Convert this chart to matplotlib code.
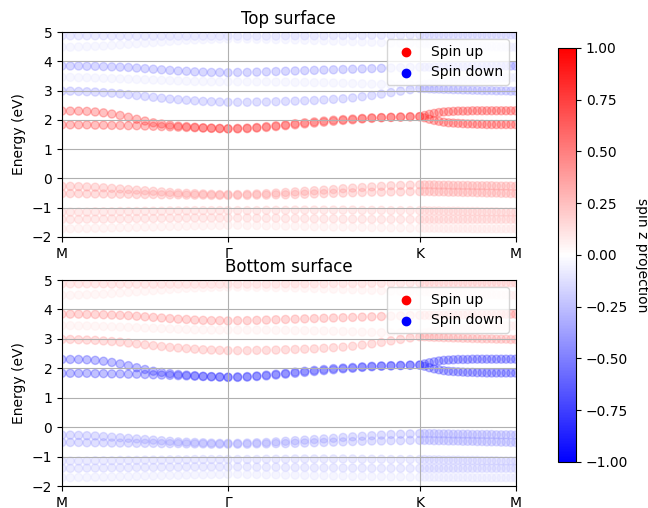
import numpy as np
import matplotlib.pyplot as plt
from matplotlib.colors import Normalize
from matplotlib.cm import ScalarMappable

# k-path M - Gamma - K - M (hexagonal BZ), 20 steps per segment
seg_len = [0.866, 1.0, 0.5]
n_step = 20
k_labels = ['M', 'Γ', 'K', 'M']

# band energies (eV), 61 k-points each
e_r1 = [2.30, 2.30, 2.30, 2.29, 2.27, 2.24, 2.20, 2.15, 2.09, 2.02, 1.96, 1.90, 1.86, 1.82, 1.79, 1.77, 1.75, 1.73, 1.72, 1.71, 1.70,
        1.71, 1.72, 1.74, 1.77, 1.80, 1.83, 1.87, 1.90, 1.93, 1.96, 1.99, 2.01, 2.03, 2.05, 2.07, 2.08, 2.09, 2.10, 2.11, 2.11,
        2.15, 2.19, 2.22, 2.25, 2.27, 2.28, 2.29, 2.30, 2.30, 2.30, 2.31, 2.31, 2.31, 2.31, 2.31, 2.31, 2.31, 2.31, 2.31, 2.31]
e_r2 = [1.83, 1.83, 1.83, 1.83, 1.82, 1.82, 1.81, 1.81, 1.80, 1.80, 1.79, 1.78, 1.77, 1.76, 1.75, 1.74, 1.73, 1.72, 1.71, 1.70, 1.69,
        1.69, 1.70, 1.72, 1.74, 1.77, 1.80, 1.83, 1.86, 1.89, 1.92, 1.95, 1.98, 2.00, 2.03, 2.05, 2.07, 2.08, 2.09, 2.10, 2.11,
        2.07, 2.02, 1.98, 1.95, 1.92, 1.90, 1.89, 1.88, 1.87, 1.86, 1.86, 1.85, 1.85, 1.84, 1.84, 1.84, 1.84, 1.84, 1.84, 1.84]
e_r3 = [-0.27, -0.27, -0.28, -0.29, -0.30, -0.32, -0.34, -0.36, -0.38, -0.40, -0.42, -0.44, -0.46, -0.48, -0.50, -0.51, -0.52, -0.53, -0.54, -0.55, -0.55,
        -0.55, -0.54, -0.53, -0.52, -0.50, -0.48, -0.46, -0.44, -0.42, -0.40, -0.38, -0.35, -0.33, -0.31, -0.29, -0.27, -0.25, -0.24, -0.23, -0.22,
        -0.22, -0.22, -0.22, -0.23, -0.23, -0.23, -0.24, -0.24, -0.24, -0.24, -0.25, -0.25, -0.25, -0.25, -0.25, -0.26, -0.26, -0.26, -0.26, -0.27]
e_r4 = [-0.52, -0.52, -0.52, -0.53, -0.53, -0.53, -0.54, -0.54, -0.54, -0.55, -0.55, -0.55, -0.56, -0.56, -0.56, -0.57, -0.57, -0.57, -0.58, -0.58, -0.58,
        -0.58, -0.58, -0.57, -0.57, -0.56, -0.56, -0.55, -0.54, -0.53, -0.52, -0.51, -0.50, -0.49, -0.48, -0.47, -0.47, -0.46, -0.46, -0.45, -0.45,
        -0.45, -0.45, -0.46, -0.46, -0.46, -0.47, -0.47, -0.47, -0.48, -0.48, -0.48, -0.49, -0.49, -0.50, -0.50, -0.50, -0.51, -0.51, -0.52, -0.52]
e_r5 = [-1.15, -1.15, -1.15, -1.15, -1.14, -1.14, -1.14, -1.13, -1.13, -1.13, -1.12, -1.12, -1.12, -1.11, -1.11, -1.11, -1.10, -1.10, -1.10, -1.10, -1.10,
        -1.10, -1.10, -1.10, -1.09, -1.09, -1.09, -1.08, -1.08, -1.08, -1.08, -1.08, -1.08, -1.08, -1.09, -1.09, -1.09, -1.10, -1.10, -1.10, -1.10,
        -1.10, -1.11, -1.11, -1.11, -1.12, -1.12, -1.12, -1.12, -1.13, -1.13, -1.13, -1.13, -1.14, -1.14, -1.14, -1.14, -1.15, -1.15, -1.15, -1.15]
e_r6 = [-1.40, -1.40, -1.40, -1.39, -1.39, -1.39, -1.38, -1.38, -1.38, -1.37, -1.37, -1.37, -1.36, -1.36, -1.36, -1.35, -1.35, -1.35, -1.35, -1.35, -1.35,
        -1.35, -1.35, -1.36, -1.36, -1.36, -1.37, -1.37, -1.37, -1.38, -1.38, -1.38, -1.39, -1.39, -1.39, -1.40, -1.40, -1.40, -1.40, -1.40, -1.40,
        -1.40, -1.40, -1.40, -1.40, -1.40, -1.40, -1.40, -1.40, -1.40, -1.40, -1.40, -1.40, -1.40, -1.40, -1.40, -1.40, -1.40, -1.40, -1.40, -1.40]
e_r7 = [-1.72, -1.72, -1.71, -1.71, -1.70, -1.70, -1.69, -1.68, -1.68, -1.67, -1.66, -1.66, -1.65, -1.64, -1.64, -1.63, -1.62, -1.62, -1.61, -1.61, -1.60,
        -1.60, -1.61, -1.61, -1.62, -1.62, -1.63, -1.63, -1.64, -1.65, -1.65, -1.66, -1.66, -1.67, -1.67, -1.68, -1.68, -1.69, -1.69, -1.70, -1.70,
        -1.70, -1.70, -1.70, -1.70, -1.71, -1.71, -1.71, -1.71, -1.71, -1.71, -1.72, -1.72, -1.72, -1.72, -1.72, -1.72, -1.72, -1.72, -1.72, -1.72]
e_b1 = [4.87, 4.87, 4.87, 4.87, 4.87, 4.87, 4.86, 4.86, 4.86, 4.86, 4.86, 4.86, 4.86, 4.86, 4.86, 4.86, 4.86, 4.86, 4.86, 4.86, 4.86,
        4.86, 4.86, 4.86, 4.86, 4.86, 4.87, 4.87, 4.87, 4.87, 4.87, 4.88, 4.88, 4.88, 4.88, 4.89, 4.89, 4.89, 4.89, 4.90, 4.90,
        4.90, 4.90, 4.90, 4.90, 4.90, 4.90, 4.90, 4.90, 4.90, 4.90, 4.90, 4.90, 4.90, 4.90, 4.90, 4.90, 4.90, 4.90, 4.90, 4.90]
e_b2 = [4.48, 4.48, 4.49, 4.50, 4.51, 4.52, 4.54, 4.56, 4.58, 4.60, 4.62, 4.64, 4.66, 4.68, 4.70, 4.72, 4.73, 4.74, 4.75, 4.76, 4.76,
        4.76, 4.76, 4.75, 4.75, 4.74, 4.74, 4.73, 4.72, 4.71, 4.70, 4.69, 4.68, 4.67, 4.66, 4.65, 4.64, 4.63, 4.62, 4.62, 4.61,
        4.61, 4.60, 4.60, 4.59, 4.58, 4.57, 4.56, 4.56, 4.55, 4.54, 4.53, 4.53, 4.52, 4.51, 4.51, 4.50, 4.49, 4.49, 4.48, 4.48]
e_b3 = [3.84, 3.84, 3.84, 3.83, 3.83, 3.82, 3.81, 3.80, 3.79, 3.77, 3.75, 3.73, 3.71, 3.69, 3.67, 3.66, 3.64, 3.63, 3.62, 3.62, 3.61,
        3.62, 3.62, 3.63, 3.64, 3.65, 3.66, 3.67, 3.68, 3.69, 3.70, 3.71, 3.72, 3.73, 3.74, 3.75, 3.76, 3.77, 3.78, 3.79, 3.80,
        3.80, 3.80, 3.81, 3.81, 3.81, 3.82, 3.82, 3.82, 3.82, 3.83, 3.83, 3.83, 3.83, 3.83, 3.84, 3.84, 3.84, 3.84, 3.84, 3.84]
e_b4 = [3.45, 3.45, 3.44, 3.44, 3.43, 3.42, 3.41, 3.40, 3.39, 3.38, 3.37, 3.36, 3.35, 3.34, 3.33, 3.32, 3.31, 3.31, 3.30, 3.30, 3.30,
        3.30, 3.30, 3.30, 3.30, 3.29, 3.29, 3.28, 3.28, 3.27, 3.27, 3.26, 3.25, 3.24, 3.23, 3.22, 3.21, 3.20, 3.20, 3.19, 3.19,
        3.20, 3.22, 3.24, 3.26, 3.28, 3.30, 3.32, 3.34, 3.35, 3.37, 3.38, 3.39, 3.40, 3.41, 3.42, 3.43, 3.43, 3.44, 3.44, 3.45]
e_b5 = [2.98, 2.98, 2.97, 2.96, 2.95, 2.93, 2.91, 2.89, 2.86, 2.83, 2.80, 2.77, 2.74, 2.71, 2.69, 2.67, 2.65, 2.63, 2.62, 2.61, 2.60,
        2.60, 2.60, 2.61, 2.61, 2.62, 2.63, 2.64, 2.65, 2.66, 2.68, 2.70, 2.72, 2.75, 2.79, 2.83, 2.88, 2.93, 2.98, 3.03, 3.07,
        3.07, 3.06, 3.05, 3.05, 3.04, 3.04, 3.03, 3.03, 3.02, 3.02, 3.01, 3.01, 3.00, 3.00, 3.00, 2.99, 2.99, 2.99, 2.98, 2.98]

bands = [e_r1, e_r2, e_r3, e_r4, e_r5, e_r6, e_r7, e_b1, e_b2, e_b3, e_b4, e_b5]
# spin z projection of each band on the top surface (bottom surface is reversed)
spin_top = [0.8, 0.8, 0.4, 0.4, 0.25, 0.25, 0.12, -0.25, -0.1, -0.5, -0.1, -0.4]

# k distances along the path
k = [0.0]
for L in seg_len:
    k += list(k[-1] + np.linspace(0, L, n_step + 1)[1:])
k = np.array(k)
k_ticks = np.concatenate([[0], np.cumsum(seg_len)])

cmap = 'bwr'
norm = Normalize(vmin=-1, vmax=1)

fig = plt.figure(figsize=(6.48, 5.08), dpi=100)
ax1 = fig.add_axes([0.0957, 0.5335, 0.700, 0.4035])
ax2 = fig.add_axes([0.0957, 0.0433, 0.700, 0.4055])
cax = fig.add_axes([0.861, 0.0906, 0.028, 0.815])

for ax, sign, title in [(ax1, 1, 'Top surface'), (ax2, -1, 'Bottom surface')]:
    for e, sz in zip(bands, spin_top):
        ax.scatter(k, e, c=np.full(len(k), sign * sz), cmap=cmap, norm=norm, s=34, alpha=0.3)
    ax.scatter([], [], color='red', label='Spin up')
    ax.scatter([], [], color='blue', label='Spin down')
    ax.legend(loc='upper right')
    ax.set_xticks(k_ticks, k_labels)
    ax.set_xlim(k_ticks[0], k_ticks[-1])
    ax.set_ylim(-2, 5)
    ax.set_ylabel('Energy (eV)')
    ax.set_title(title)
    ax.grid(True)

cb = fig.colorbar(ScalarMappable(norm=norm, cmap=cmap), cax=cax)
cb.set_label('spin z projection', rotation=270, labelpad=15)

fig.savefig('out.png', dpi=100)
